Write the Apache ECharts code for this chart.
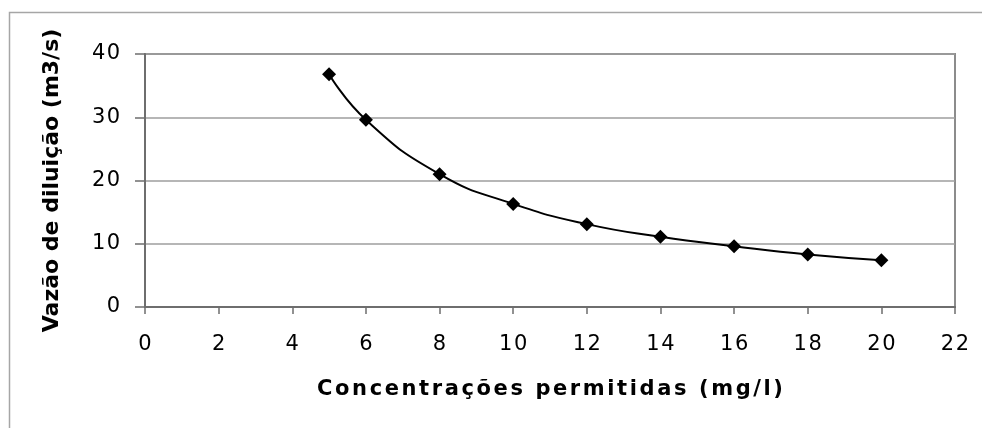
<!DOCTYPE html>
<html>
<head>
<meta charset="utf-8">
<style>
  html, body { margin: 0; padding: 0; background: #ffffff; }
  #chart { width: 982px; height: 428px; }
</style>
<script src="https://cdn.jsdelivr.net/npm/echarts@6/dist/echarts.min.js"></script>
</head>
<body>
<div id="chart"></div>
<script>
// Allowed concentration (mg/l) and the dilution flow it requires (m3/s)
const concentrations = [5, 6, 8, 10, 12, 14, 16, 18, 20];
const dilutionFlow = [36.8, 29.6, 21.0, 16.3, 13.1, 11.1, 9.6, 8.3, 7.4];

const xTitle = 'Concentrações permitidas (mg/l)';
const yTitle = 'Vazão de diluição (m3/s)';

const FONT = 'DejaVu Sans';

// Splits a string into rich-text segments so each glyph gets side padding (letter spacing)
function spaced(text, key) {
  return text.split('').map(function (ch) { return '{' + key + '|' + ch + '}'; }).join('');
}

function glyphStyle(size, weight, pad) {
  return {
    fontFamily: FONT,
    fontSize: size,
    fontWeight: weight,
    color: '#000000',
    padding: [0, pad, 0, pad]
  };
}

const chart = echarts.init(document.getElementById('chart'), null, { renderer: 'canvas' });

const pairs = concentrations.map(function (c, i) { return [c, dilutionFlow[i]]; });

chart.setOption({
  animation: false,
  backgroundColor: '#ffffff',
  graphic: [{
    type: 'rect',
    silent: true,
    shape: { x: 9.5, y: 12.5, width: 1000, height: 440 },
    style: { fill: 'none', stroke: '#a6a6a6', lineWidth: 1.5 }
  }],
  grid: {
    left: 145, right: 27, top: 54, bottom: 121,
    show: true,
    borderColor: '#8c8c8c',
    borderWidth: 2,
    backgroundColor: 'transparent'
  },
  xAxis: {
    type: 'value',
    min: 0, max: 22, interval: 2,
    name: spaced(xTitle, 't'),
    nameLocation: 'middle',
    nameGap: 72,
    nameTextStyle: {
      fontFamily: FONT, fontSize: 21, fontWeight: 'bold', color: '#000000',
      rich: { t: glyphStyle(21, 'bold', 1.3) }
    },
    axisLine: { show: true, onZero: false, lineStyle: { color: '#6e6e6e', width: 2 } },
    axisTick: { show: true, inside: false, length: 7, lineStyle: { color: '#6e6e6e', width: 1.5 } },
    axisLabel: {
      margin: 27,
      fontFamily: FONT, fontSize: 21, color: '#000000',
      formatter: function (v) { return spaced(String(v), 'd'); },
      rich: { d: glyphStyle(21, 'normal', 0.8) }
    },
    splitLine: { show: false }
  },
  yAxis: {
    type: 'value',
    min: 0, max: 40, interval: 10,
    name: yTitle,
    nameLocation: 'middle',
    nameGap: 82,
    nameRotate: 90,
    nameTextStyle: { fontFamily: FONT, fontSize: 22, fontWeight: 'bold', color: '#000000' },
    axisLine: { show: true, lineStyle: { color: '#6e6e6e', width: 2 } },
    axisTick: { show: true, inside: false, length: 10, lineStyle: { color: '#6e6e6e', width: 1.5 } },
    axisLabel: {
      margin: 24,
      fontFamily: FONT, fontSize: 21, color: '#000000',
      formatter: function (v) { return spaced(String(v), 'd'); },
      rich: { d: glyphStyle(21, 'normal', 0.8) }
    },
    splitLine: { show: true, lineStyle: { color: '#9e9e9e', width: 1.5 } }
  },
  series: [{
    type: 'line',
    data: pairs,
    smooth: true,
    symbol: 'diamond',
    symbolSize: 14,
    lineStyle: { color: '#000000', width: 2 },
    itemStyle: { color: '#000000' }
  }]
});
</script>
</body>
</html>
